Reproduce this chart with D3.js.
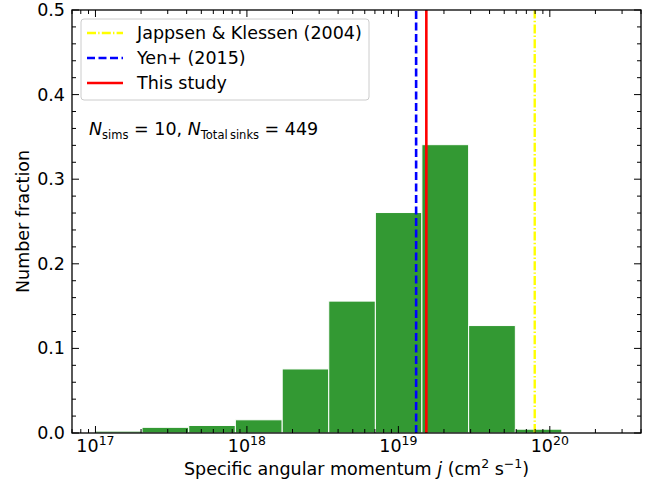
<!DOCTYPE html>
<html>
<head>
<meta charset="utf-8">
<script src="https://cdn.jsdelivr.net/npm/d3@7"></script>
<style>
body{margin:0;background:#fff;}
text{font-family:"DejaVu Sans",sans-serif;fill:#000;}
</style>
</head>
<body>
<div id="chart"></div>
<script>
(function(){

const width = 659;
const height = 489;
const margin = {top:10,right:18,bottom:56,left:72};

// histogram bin edges (cm^2 s^-1) and number fraction per bin
const binEdges = [1.0e17,2.03e17,4.13e17,8.39e17,1.71e18,3.47e18,7.05e18,1.43e19,2.91e19,5.92e19,1.20e20];
const fractions = [0.0022,0.0067,0.0089,0.0156,0.0757,0.1559,0.2606,0.3408,0.127,0.0045];

// reference values
const refNames = ["Jappsen & Klessen (2004)","Yen+ (2015)","This study"];
const refValues = [7.95e19,1.31e19,1.53e19];
const refColors = ["#ffff00","#0000ff","#ff0000"];
const refDash = ["9,2.2,1.4,2.2","8,3.5",null];
const refWidth = [2.4,2.6,2.6];

const xMajor = [1e17,1e18,1e19,1e20];
const xMajorExp = ["17","18","19","20"];
const yMajor = [0,0.1,0.2,0.3,0.4,0.5];

const fs = "17.5px";
const fsSmall = "12.5px";

const svg = d3.select("#chart")
.append("svg")
.attr("width",width)
.attr("height",height);

const x = d3.scaleLog()
.domain([7e16,4e20])
.range([margin.left,width-margin.right]);

const y = d3.scaleLinear()
.domain([0,0.5])
.range([height-margin.bottom,margin.top]);

const x0 = margin.left, x1 = width-margin.right;
const y0 = height-margin.bottom, y1 = margin.top;

// bars
const bins = fractions.map((f,i)=>({lo:binEdges[i],hi:binEdges[i+1],f:f}));
svg.selectAll("rect.bar")
.data(bins)
.enter()
.append("rect")
.attr("class","bar")
.attr("x",d=>x(d.lo))
.attr("width",d=>x(d.hi)-x(d.lo))
.attr("y",d=>y(d.f))
.attr("height",d=>y(0)-y(d.f))
.attr("fill","#339933")
.attr("stroke","#fff")
.attr("stroke-width",1);

// reference lines
refValues.forEach((v,i)=>{
    svg.append("line")
    .attr("x1",x(v)).attr("x2",x(v))
    .attr("y1",y0).attr("y2",y1)
    .attr("stroke",refColors[i])
    .attr("stroke-width",refWidth[i])
    .attr("stroke-dasharray",refDash[i]);
});

// minor ticks
const xMinor = [];
[16,17,18,19,20].forEach(e=>{
    for(let k=2;k<=9;k++){
        const v = k*Math.pow(10,e);
        if(v>=7e16 && v<=4e20) xMinor.push(v);
    }
});
const yMinor = d3.range(0,0.501,0.02).filter(v=>Math.abs(v*10-Math.round(v*10))>1e-6);

const ticks = svg.append("g").attr("stroke","#000").attr("stroke-width",1);
function vt(v,len){
    ticks.append("line").attr("x1",x(v)).attr("x2",x(v)).attr("y1",y0).attr("y2",y0-len);
    ticks.append("line").attr("x1",x(v)).attr("x2",x(v)).attr("y1",y1).attr("y2",y1+len);
}
function ht(v,len){
    ticks.append("line").attr("y1",y(v)).attr("y2",y(v)).attr("x1",x0).attr("x2",x0+len);
    ticks.append("line").attr("y1",y(v)).attr("y2",y(v)).attr("x1",x1).attr("x2",x1-len);
}
xMinor.forEach(v=>vt(v,4));
xMajor.forEach(v=>vt(v,7));
yMinor.forEach(v=>ht(v,4));
yMajor.forEach(v=>ht(v,7));

// frame
svg.append("rect")
.attr("x",x0).attr("y",y1)
.attr("width",x1-x0).attr("height",y0-y1)
.attr("fill","none").attr("stroke","#000").attr("stroke-width",1.3);

// tick labels
svg.selectAll("text.ylab")
.data(yMajor)
.enter()
.append("text")
.attr("x",x0-7)
.attr("y",d=>y(d)+6)
.attr("text-anchor","end")
.style("font-size",fs)
.text(d=>d.toFixed(1));

xMajor.forEach((v,i)=>{
    const t = svg.append("text")
    .attr("x",x(v))
    .attr("y",y0+19)
    .attr("text-anchor","middle")
    .style("font-size",fs);
    t.append("tspan").text("10");
    t.append("tspan").attr("dy",-7).style("font-size",fsSmall).text(xMajorExp[i]);
});

// axis titles
const xt = svg.append("text")
.attr("x",(x0+x1)/2)
.attr("y",475)
.attr("text-anchor","middle")
.style("font-size",fs);
xt.append("tspan").text("Specific angular momentum ");
xt.append("tspan").style("font-style","italic").text("j");
xt.append("tspan").text(" (cm");
xt.append("tspan").attr("dy",-7).style("font-size",fsSmall).text("2");
xt.append("tspan").attr("dy",7).text(" s");
xt.append("tspan").attr("dy",-7).style("font-size",fsSmall).text("\u22121");
xt.append("tspan").attr("dy",7).text(")");

svg.append("text")
.attr("transform",`translate(29,${(y0+y1)/2}) rotate(-90)`)
.attr("text-anchor","middle")
.style("font-size",fs)
.text("Number fraction");

// legend
const lg = svg.append("g");
lg.append("rect")
.attr("x",81).attr("y",19)
.attr("width",288).attr("height",81)
.attr("rx",3)
.attr("fill","#fff").attr("fill-opacity",0.8)
.attr("stroke","#ccc").attr("stroke-width",1);
refNames.forEach((n,i)=>{
    const cy = 33+i*25;
    lg.append("line")
    .attr("x1",87).attr("x2",123)
    .attr("y1",cy).attr("y2",cy)
    .attr("stroke",refColors[i])
    .attr("stroke-width",refWidth[i])
    .attr("stroke-dasharray",refDash[i]);
    lg.append("text")
    .attr("x",137).attr("y",cy+6)
    .style("font-size",fs)
    .text(n);
});

// annotation
const an = svg.append("text")
.attr("x",89).attr("y",135)
.style("font-size",fs);
an.append("tspan").style("font-style","italic").text("N");
an.append("tspan").attr("dy",4).style("font-size","11.5px").text("sims");
an.append("tspan").attr("dy",-4).text(" = 10, ");
an.append("tspan").style("font-style","italic").text("N");
an.append("tspan").attr("dy",4).style("font-size","11.5px").text("Total\u2009sinks");
an.append("tspan").attr("dy",-4).text(" = 449");

})();
</script>
</body>
</html>
